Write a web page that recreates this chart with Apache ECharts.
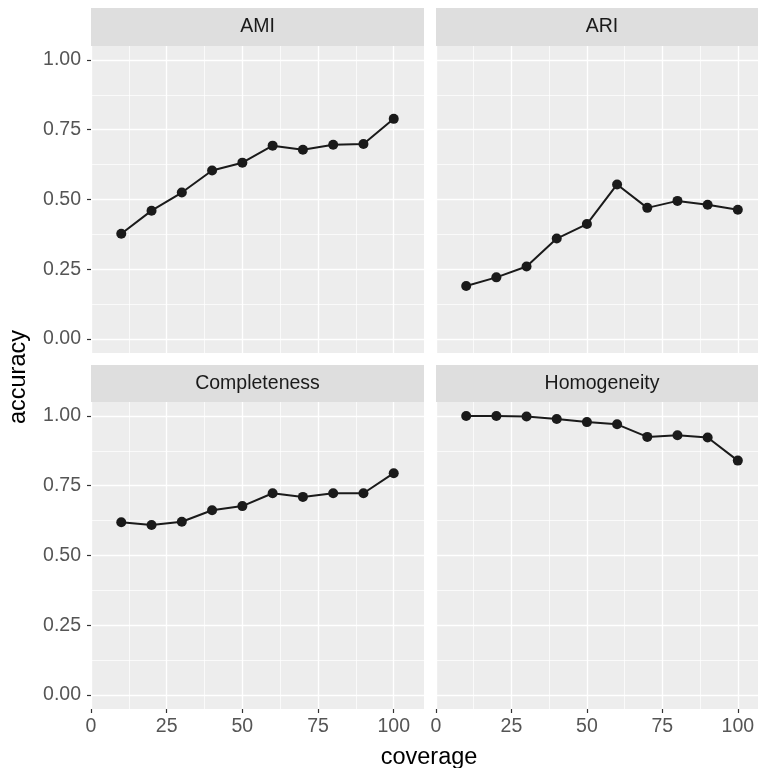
<!DOCTYPE html>
<html>
<head>
<meta charset="utf-8">
<script src="https://cdn.jsdelivr.net/npm/echarts@6/dist/echarts.min.js"></script>
<style>
html,body{margin:0;padding:0;background:#fff;overflow:hidden;width:758px;height:768px;}
#chart{width:768px;height:768px;}
</style>
</head>
<body>
<div id="chart"></div>
<script>
// ---- data ----
const coverage = [10, 20, 30, 40, 50, 60, 70, 80, 90, 100];
const ami = [0.377, 0.460, 0.525, 0.604, 0.632, 0.693, 0.678, 0.696, 0.699, 0.789];
const ari = [0.190, 0.221, 0.260, 0.360, 0.412, 0.554, 0.470, 0.495, 0.481, 0.463];
const completeness = [0.619, 0.609, 0.621, 0.662, 0.677, 0.723, 0.710, 0.723, 0.723, 0.795];
const homogeneity = [1.000, 1.000, 0.998, 0.989, 0.978, 0.970, 0.925, 0.931, 0.923, 0.840];
const panelNames = ['AMI', 'ARI', 'Completeness', 'Homogeneity'];
const panelValues = [ami, ari, completeness, homogeneity];
const xTicks = [0, 25, 50, 75, 100];
const yTicks = [0, 0.25, 0.5, 0.75, 1];
const xTitle = 'coverage';
const yTitle = 'accuracy';

// ---- layout ----
const FONT = '"Liberation Sans", Arial, Helvetica, sans-serif';
const colLeft = [91, 436];
const colWidth = [333, 332];
const rowTop = [46, 402];
const rowHeight = 307;
const stripTop = [8, 365];
const xMin = 0, xMax = 110;
const yMin = -0.05, yMax = 1.05;
const panelBg = '#EDEDED';
const stripBg = '#DEDEDE';

const grid = [], xAxis = [], yAxis = [], series = [], graphic = [];

panelNames.forEach((name, i) => {
  const col = i % 2, row = Math.floor(i / 2);
  const left = colLeft[col], top = rowTop[row], w = colWidth[col], h = rowHeight;
  const pxPerUnit = h / (yMax - yMin);
  const innerTop = top + (yMax - 1) * pxPerUnit;
  const innerH = pxPerUnit * 1;
  const isBottom = row === 1, isLeft = col === 0;

  const gA = grid.length;
  grid.push({left: left, top: top, width: w, height: h, show: true, backgroundColor: panelBg, borderWidth: 0, containLabel: false});
  const gB = grid.length;
  grid.push({left: left, top: innerTop, width: w, height: innerH, show: false, containLabel: false});

  // vertical minor lines
  xAxis.push({type: 'value', gridIndex: gA, position: 'bottom', min: xMin, max: xMax, interval: 12.5, z: 0,
    axisLine: {show: false}, axisTick: {show: false}, axisLabel: {show: false},
    splitLine: {show: true, lineStyle: {color: '#FFFFFF', width: 0.7}}});
  // vertical major lines + labels
  const xMajor = xAxis.length;
  xAxis.push({type: 'value', gridIndex: gA, position: 'bottom', min: xMin, max: xMax, interval: 25, z: 1,
    axisLine: {show: false},
    axisTick: {show: isBottom, length: 4, customValues: xTicks, lineStyle: {color: '#333333', width: 1.2}},
    axisLabel: {show: isBottom, customValues: xTicks, margin: 8, color: '#555555', fontSize: 19.5, fontFamily: FONT,
      formatter: v => String(v)},
    splitLine: {show: true, lineStyle: {color: '#FFFFFF', width: 1.4}}});
  const yOuter = yAxis.length;
  yAxis.push({type: 'value', gridIndex: gA, position: 'left', min: yMin, max: yMax, show: false, splitLine: {show: false}});

  xAxis.push({type: 'value', gridIndex: gB, position: 'bottom', min: xMin, max: xMax, show: false, splitLine: {show: false}});
  yAxis.push({type: 'value', gridIndex: gB, position: 'left', min: 0, max: 1, interval: 0.125, z: 0,
    axisLine: {show: false}, axisTick: {show: false}, axisLabel: {show: false},
    splitLine: {show: true, lineStyle: {color: '#FFFFFF', width: 0.7}}});
  yAxis.push({type: 'value', gridIndex: gB, position: 'left', min: 0, max: 1, interval: 0.25, z: 1,
    axisLine: {show: false},
    axisTick: {show: isLeft, length: 4, customValues: yTicks, lineStyle: {color: '#333333', width: 1.2}},
    axisLabel: {show: isLeft, customValues: yTicks, margin: 10, color: '#555555', fontSize: 19.5, fontFamily: FONT,
      formatter: v => v.toFixed(2)},
    splitLine: {show: true, lineStyle: {color: '#FFFFFF', width: 1.4}}});

  series.push({
    type: 'line', name: name, xAxisIndex: xMajor, yAxisIndex: yOuter, z: 5,
    data: coverage.map((c, k) => [c, panelValues[i][k]]),
    symbol: 'circle', symbolSize: 10, showSymbol: true, clip: false,
    lineStyle: {color: '#1A1A1A', width: 2},
    itemStyle: {color: '#1A1A1A'},
    emphasis: {disabled: true}, animation: false
  });

  const sTop = stripTop[row], sH = top - sTop;
  graphic.push({type: 'rect', shape: {x: left, y: sTop, width: w, height: sH}, style: {fill: stripBg}, silent: true, z: 0});
  graphic.push({type: 'text', x: left + w / 2, y: sTop + sH / 2, silent: true, z: 1,
    style: {text: name, fill: '#1A1A1A', font: '19.5px ' + FONT, align: 'center', verticalAlign: 'middle'}});
});

graphic.push({type: 'text', x: 429, y: 758, silent: true,
  style: {text: xTitle, fill: '#000000', font: '23.5px ' + FONT, align: 'center', verticalAlign: 'middle'}});
graphic.push({type: 'text', x: 19, y: 377, rotation: Math.PI / 2, silent: true,
  style: {text: yTitle, fill: '#000000', font: '23.5px ' + FONT, align: 'center', verticalAlign: 'middle'}});

const chart = echarts.init(document.getElementById('chart'), null, {renderer: 'canvas', width: 768, height: 768});
chart.setOption({
  backgroundColor: '#FFFFFF',
  animation: false,
  grid: grid, xAxis: xAxis, yAxis: yAxis, series: series, graphic: graphic,
  tooltip: {show: false}
});
</script>
</body>
</html>
